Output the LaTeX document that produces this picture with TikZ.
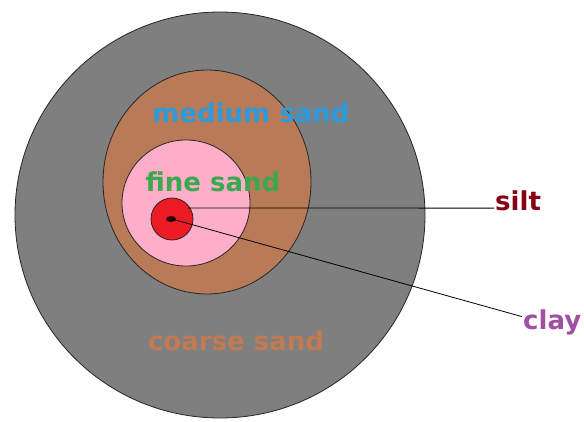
\documentclass[tikz,border=0pt]{standalone}
\usepackage{fontspec}
\setmainfont{DejaVu Sans}
\usepackage{xcolor}
\definecolor{coarsegray}{HTML}{7F7F7F}
\definecolor{mediumbrown}{HTML}{B97A57}
\definecolor{finepink}{HTML}{FFAEC9}
\definecolor{siltred}{HTML}{ED1C24}
\definecolor{bluetxt}{HTML}{2E9ADB}
\definecolor{greentxt}{HTML}{3AA84E}
\definecolor{coarsetxt}{HTML}{C27A52}
\definecolor{silttxt}{HTML}{880015}
\definecolor{claytxt}{HTML}{A04FA4}

\begin{document}
\begin{tikzpicture}[x=1pt,y=-1pt,
  ring/.style={draw=black!85,line width=0.8pt},
  lbl/.style={font=\bfseries\fontsize{26}{30}\selectfont,inner sep=1pt}]
  \useasboundingbox (0,0) rectangle (584,421); \clip (0,0) rectangle (584,421); \fill[white] (0,0) rectangle (584,421);
  \draw[ring,fill=coarsegray] (220,215) ellipse [x radius=205pt,y radius=203pt];
  \draw[ring,fill=mediumbrown] (207,182) ellipse [x radius=104pt,y radius=112pt];
  \draw[ring,fill=finepink] (186,203) ellipse [x radius=64pt,y radius=63pt];
  \draw[ring,fill=siltred] (172,219) circle [radius=21pt];
  \fill[black!80!red] (171,219) ellipse [x radius=5pt,y radius=3pt];
  \coordinate (siltin) at (188,208); \coordinate (core) at (172,219);
  \node[lbl,text=bluetxt] (medium) at (251,113) {medium sand};
  \node[lbl,text=greentxt] (fine) at (213,182) {fine sand};
  \node[lbl,text=coarsetxt] (coarse) at (236,341) {coarse sand};
  \node[lbl,text=silttxt,anchor=base west] (silt) at (494,210) {silt};
  \node[lbl,text=claytxt,anchor=base west] (clay) at (522,329) {clay};
  \draw[line width=0.8pt] (siltin) -- (silt.198); \draw[line width=0.8pt] (core) -- (clay.170);
\end{tikzpicture}
\end{document}
